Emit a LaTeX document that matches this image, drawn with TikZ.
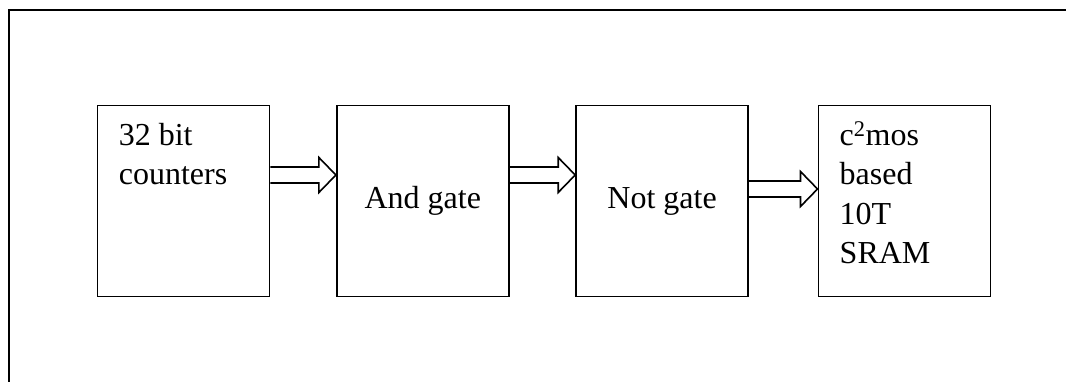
\documentclass[tikz,border=0pt]{standalone}
\usepackage{fontspec}
\setmainfont{Liberation Serif}
\usetikzlibrary{positioning,calc}

\newcommand{\blockfont}{\fontsize{32}{39.5}\selectfont}

\begin{document}
\begin{tikzpicture}[x=1pt,y=-1pt]
	\tikzset{
	  basic/.style  = {draw, line width=1.8pt, rectangle, inner sep=0pt},
	  block/.style  = {basic, minimum width=172pt, minimum height=191pt,
	                   font=\blockfont, align=center},
	  inside/.style = {inner sep=0pt, anchor=north west, align=left,
	                   font=\blockfont},
	  flow/.style   = {draw, line width=1.6pt, line join=miter}
	}
	\useasboundingbox (0,0) rectangle (1066,382);

	% frame round the page
	\draw[line width=2pt] (9,382) -- (9,10) -- (1066,10);

	\node[block] (b1) at (183.5,201) {};
	\node[block, right=65.5pt of b1] (b2) {And gate};
	\node[block, right=65.5pt of b2] (b3) {Not gate};
	\node[block, right=68.5pt of b3] (b4) {};

	% texts set in the top left corner
	\node[inside] (t1) at ($(b1.north west)+(22,13)$) {\strut 32 bit\\counters};
	\node[inside] (t4) at ($(b4.north west)+(22,13)$)
	  {\strut c\textsuperscript{2}mos\\based\\10T\\SRAM};

	% hollow arrows between the blocks
	\foreach \a/\b/\dy in {b1/b2/-26, b2/b3/-26, b3/b4/-12}
	  \draw[flow] ($(\a.east)+(0,\dy-8)$) -- ($(\b.west)+(-17,\dy-8)$)
	    -- ($(\b.west)+(-17,\dy-17.5)$) -- ($(\b.west)+(0,\dy)$)
	    -- ($(\b.west)+(-17,\dy+17.5)$) -- ($(\b.west)+(-17,\dy+8)$)
	    -- ($(\a.east)+(0,\dy+8)$);
\end{tikzpicture}
\end{document}
